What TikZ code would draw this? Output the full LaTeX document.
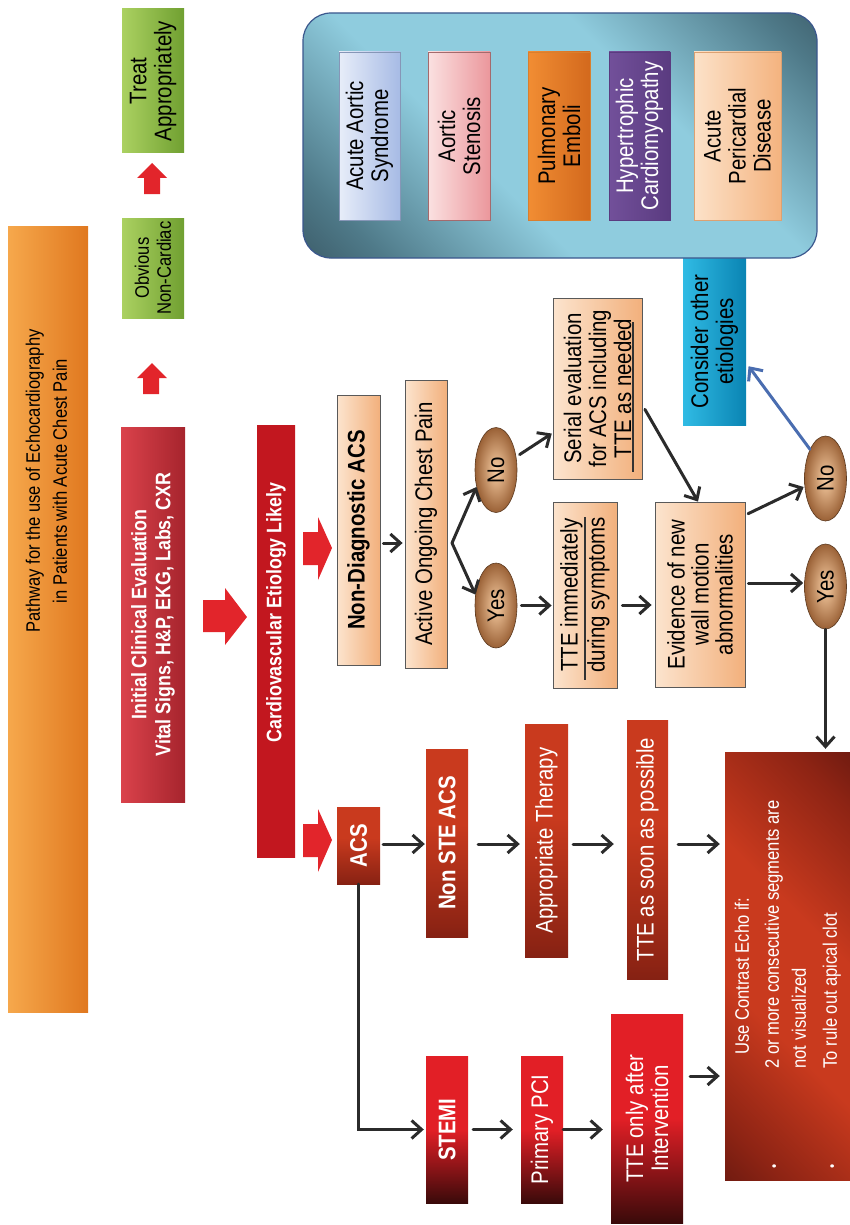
\documentclass[tikz,border=0pt]{standalone}
\usepackage{fontspec}
\setmainfont{Liberation Sans}[FakeStretch=0.85]
\usepackage{tikz}
\usetikzlibrary{arrows.meta}
\usetikzlibrary{shapes.geometric}

\definecolor{titleA}{HTML}{F6A84C}
\definecolor{titleB}{HTML}{E0781F}
\definecolor{greenA}{HTML}{ABD161}
\definecolor{greenB}{HTML}{70A031}
\definecolor{arrred}{HTML}{E2252B}
\definecolor{initA}{HTML}{DA424B}
\definecolor{initB}{HTML}{A6242D}
\definecolor{darkred}{HTML}{2E0708}
\definecolor{midred}{HTML}{C2171F}
\definecolor{rustA}{HTML}{C93A1E}
\definecolor{rustM}{HTML}{8E2414}
\definecolor{rustB}{HTML}{3A0A0A}
\definecolor{brightred}{HTML}{E21F26}
\definecolor{peachA}{HTML}{FCE4CE}
\definecolor{peachB}{HTML}{F2B07C}
\definecolor{ballA}{HTML}{F7CDA3}
\definecolor{ballB}{HTML}{9A6136}
\definecolor{cyanA}{HTML}{30BBE4}
\definecolor{cyanB}{HTML}{0A84B3}
\definecolor{skyA}{HTML}{8FCCDE}
\definecolor{skyM}{HTML}{4F7A89}
\definecolor{skyB}{HTML}{1C2A33}
\definecolor{lavA}{HTML}{E7EDF9}
\definecolor{lavB}{HTML}{A7BBE5}
\definecolor{pinkA}{HTML}{FBE1E1}
\definecolor{pinkB}{HTML}{EB979C}
\definecolor{orA}{HTML}{F18D33}
\definecolor{orB}{HTML}{D3691D}
\definecolor{purA}{HTML}{72509A}
\definecolor{purB}{HTML}{5A3B80}
\definecolor{apdA}{HTML}{FCE2C9}
\definecolor{apdB}{HTML}{F4B37F}
\definecolor{linegray}{HTML}{2B2B2B}
\definecolor{blueline}{HTML}{4A6DB0}

\pgfdeclareverticalshading{skyband}{100bp}{color(0bp)=(skyB); color(22bp)=(skyM); color(40bp)=(skyA); color(62bp)=(skyA); color(80bp)=(skyM); color(100bp)=(skyB)}
\pgfdeclareverticalshading{rustband}{100bp}{color(0bp)=(rustB); color(22bp)=(rustM); color(40bp)=(rustA); color(58bp)=(rustA); color(78bp)=(rustM); color(100bp)=(rustB)}
\pgfdeclareverticalshading{rustfall}{100bp}{color(0bp)=(rustB); color(28bp)=(rustM); color(55bp)=(rustA); color(100bp)=(rustA)}
\pgfdeclareverticalshading{cardioband}{100bp}{color(0bp)=(darkred); color(20bp)=(midred); color(78bp)=(midred); color(100bp)=(darkred)}

\tikzset{
    rbox/.style={rotate=90, inner sep=1pt, align=center, font=\fontsize{24}{25}\selectfont},
    titlebox/.style={rbox, left color=titleA, right color=titleB, font=\fontsize{19.5}{27}\selectfont},
    greenbox/.style={rbox, left color=greenA, right color=greenB},
    initbox/.style={rbox, left color=initA, right color=initB, text=white, font=\fontsize{21}{24}\selectfont\bfseries},
    cardiobox/.style={rbox, shade, shading=cardioband, text=white, font=\fontsize{21}{24}\selectfont\bfseries},
    rustbox/.style={rbox, shade, shading=rustfall, text=white},
    brightbox/.style={rbox, top color=brightred, bottom color=rustB, middle color=brightred, text=white},
    peachbox/.style={rbox, draw=black!65, line width=0.8pt, left color=peachA, right color=peachB},
    ball/.style={rbox, ellipse, draw=ballB!60!black, line width=0.6pt, inner color=ballA, outer color=ballB, minimum width=85pt, minimum height=42pt, inner sep=0pt},
    cyanbox/.style={rbox, left color=cyanA, right color=cyanB},
    skybox/.style={draw=blueline!80!black, line width=1.2pt, rounded corners=28pt, shade, shading=skyband, shading angle=-45},
    subbox/.style n args={3}{rbox, draw=#3, line width=0.8pt, left color=#1, right color=#2, minimum width=168pt},
    arr/.style={draw=linegray, line width=3pt, line cap=round, -{Straight Barb[length=10pt,width=18pt]}},
    bluearr/.style={arr, draw=blueline},
    redarrow/.style={fill=arrred},
    rulel/.style={draw=black!80, line width=1.2pt}
}

\begin{document}
\begin{tikzpicture}[x=1pt, y=-1pt]
        \useasboundingbox (0,0) rectangle (850,1225);
        \node[titlebox, minimum width=786pt, minimum height=80pt] (title) at (48,619) {\hspace*{276pt}\begin{tabular}{@{}c@{}}Pathway for the use of Echocardiography\\in Patients with Acute Chest Pain\end{tabular}};
        \node[greenbox, minimum width=144pt, minimum height=62pt] (treat) at (153,81) {Treat\\Appropriately};
        \node[greenbox, minimum width=100pt, minimum height=62pt, font=\fontsize{19.5}{22}\selectfont] (obvious) at (153,268) {Obvious\\Non-Cardiac};
        \node[initbox, minimum width=375pt, minimum height=64pt] (initial) at (153,614.5) {Initial Clinical Evaluation\\Vital Signs, H\&P, EKG, Labs, CXR};
        \node[cardiobox, minimum width=432pt, minimum height=38pt] (cardio) at (276,641) {\hspace*{57pt}Cardiovascular Etiology Likely};
        \fill[redarrow] (144,194) -- (144,178) -- (137,178) -- (152,163) -- (167,178) -- (160,178) -- (160,194) -- cycle;
        \fill[redarrow] (143,394) -- (143,378) -- (137,378) -- (152,363) -- (167,378) -- (159,378) -- (159,394) -- cycle;
        \fill[redarrow] (203,600) -- (225,600) -- (225,588) -- (247,617) -- (225,645) -- (225,632) -- (203,632) -- cycle;
        \fill[redarrow] (303,532) -- (318,532) -- (318,517) -- (332,548) -- (318,580) -- (318,565) -- (303,565) -- cycle;
        \fill[redarrow] (303,824) -- (318,824) -- (318,809) -- (332,840) -- (318,872) -- (318,857) -- (303,857) -- cycle;

        \node[peachbox, minimum width=270pt, minimum height=43pt] (nondiag) at (358.5,530) {\bfseries Non-Diagnostic ACS};
        \node[peachbox, minimum width=288pt, minimum height=42pt] (active) at (426,524) {Active Ongoing Chest Pain};
        \node[ball] (no1) at (496,470) {No};
        \node[ball] (yes1) at (496,605.5) {Yes};
        \node[peachbox, minimum width=181pt, minimum height=89pt] (serial) at (597.5,388.5) {Serial evaluation\\for ACS including\\TTE as needed};
        \node[peachbox, minimum width=186pt, minimum height=64pt, font=\fontsize{24}{27}\selectfont] (tteimm) at (585,595) {TTE immediately\\during symptoms};
        \node[peachbox, minimum width=185pt, minimum height=90pt, font=\fontsize{24}{24}\selectfont] (evidence) at (700,594.5) {Evidence of new\\wall motion\\abnormalities};
        \node[ball] (no2) at (825.5,478.5) {No};
        \node[ball] (yes2) at (825.5,586.5) {Yes};
        \draw[rulel] (585,517) -- (585,680);
        \draw[rulel] (633,322) -- (633,472);

        \node[cyanbox, minimum width=167pt, minimum height=63pt] (consider) at (714.5,341.5) {Consider other\\etiologies};
        \node[skybox, minimum width=514pt, minimum height=245pt] (etiology) at (560,135.5) {};
        \node[subbox={lavA}{lavB}{lavB!80!black}, minimum height=61pt] (aas) at (369.5,136) {Acute Aortic\\Syndrome};
        \node[subbox={pinkA}{pinkB}{pinkB!70!black}, minimum height=62pt] (stenosis) at (459,136) {Aortic\\Stenosis};
        \node[subbox={orA}{orB}{orA!90!black}, minimum height=62pt] (emboli) at (559,136) {Pulmonary\\Emboli};
        \node[subbox={purA}{purB}{purB}, minimum height=61pt, text=white] (hcm) at (639.5,136) {Hypertrophic\\Cardiomyopathy};
        \node[subbox={apdA}{apdB}{apdB!90!black}, minimum height=87pt] (pericard) at (737.5,136) {Acute\\Pericardial\\Disease};

        \node[rustbox, minimum width=77pt, minimum height=43pt] (acs) at (358.5,845.5) {\bfseries ACS};
        \node[rustbox, minimum width=188pt, minimum height=42pt] (nonste) at (447,843) {\bfseries Non STE ACS};
        \node[rustbox, minimum width=233pt, minimum height=43pt] (approp) at (546.5,840.5) {Appropriate Therapy};
        \node[rustbox, minimum width=259pt, minimum height=41pt] (ttesoon) at (647.5,849.5) {TTE as soon as possible};
        \node[brightbox, minimum width=147pt, minimum height=42pt] (stemi) at (447,1129.5) {\bfseries STEMI};
        \node[brightbox, minimum width=147pt, minimum height=42pt] (pci) at (542,1129.5) {Primary PCI};
        \node[brightbox, minimum width=209pt, minimum height=72pt] (tteonly) at (647,1118.5) {TTE only after\\Intervention};
        \node[rbox, shade, shading=rustband, shading angle=-45, minimum width=428pt, minimum height=125pt, text=white, font=\fontsize{19.5}{27}\selectfont] (contrast) at (787.5,966) {\begin{tabular}{@{}l@{\hspace{96pt}}l@{}}\multicolumn{2}{@{\hspace{114pt}}l@{}}{Use Contrast Echo if:}\\[3pt] {\fontsize{14}{14}\selectfont\textbullet} & 2 or more consecutive segments are\\ & not visualized\\[4pt] {\fontsize{14}{14}\selectfont\textbullet} & To rule out apical clot\end{tabular}\hspace*{37pt}};

        \coordinate (fork) at (452,543);
        \draw[arr, shorten <=3pt, shorten >=2pt] (nondiag.south|-0,543) -- (active.north|-0,543);
        \draw[arr] (fork) -- (no1.131);
        \draw[arr] (fork) -- (yes1.62);
        \draw[arr, shorten <=4pt, shorten >=1pt] (no1) -- (serial.north|-0,433);
        \draw[arr, shorten <=4pt, shorten >=1pt] (yes1.south) -- (tteimm.north|-yes1.south);
        \draw[arr, shorten <=5pt, shorten >=3pt] (tteimm.south|-0,605) -- (evidence.north|-0,605);
        \draw[arr, shorten <=5pt] (serial.south|-0,405) -- (evidence.east-|698,0);
        \draw[arr, shorten <=3pt, shorten >=1pt] (evidence.south|-0,515) -- (no2.111);
        \draw[arr, shorten <=3pt, shorten >=1pt] (evidence.south|-0,583) -- (yes2.north|-0,583);
        \draw[bluearr, shorten >=4pt] (no2.28) -- (consider.south|-0,363);
        \draw[arr, shorten >=3pt] (yes2.west) -- (yes2.west|-contrast.east);

        \draw[arr, shorten <=3pt, shorten >=1pt] (acs.south|-0,844) -- (nonste.north|-0,844);
        \draw[arr, shorten <=10pt, shorten >=5pt] (nonste.south|-0,844) -- (approp.north|-0,844);
        \draw[arr, shorten <=5pt, shorten >=13pt] (approp.south|-0,844) -- (ttesoon.north|-0,844);
        \draw[arr, shorten <=10pt, shorten >=5pt] (ttesoon.south|-0,844) -- (contrast.north|-0,844);
        \draw[arr, shorten >=2pt] (acs.west) |- (stemi.north);
        \draw[arr, shorten <=5pt, shorten >=8pt] (stemi.south) -- (pci.north);
        \draw[arr, shorten >=8pt] (pci.south) -- (tteonly.north|-pci.south);
        \draw[arr, shorten <=7pt, shorten >=5pt] (tteonly.south|-0,1076) -- (contrast.north|-0,1076);
    \end{tikzpicture}
\end{document}
